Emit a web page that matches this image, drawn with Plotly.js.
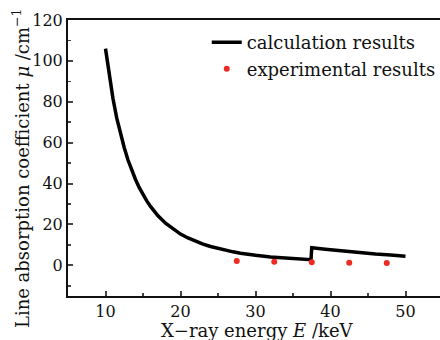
<!DOCTYPE html>
<html>
<head>
<meta charset="utf-8">
<script src="https://cdn.plot.ly/plotly-3.0.1.min.js"></script>
<style>
html,body{margin:0;padding:0;overflow:hidden;background:#fff;}
#chart{width:451px;height:340px;}
</style>
</head>
<body>
<div id="chart"></div>
<script>
// Calculated line absorption coefficient
const calcEnergy = [10, 10.5, 11, 11.5, 12, 12.5, 13, 13.5, 14, 14.5, 15, 15.5, 16, 17, 18, 19, 20, 21, 22, 23, 24, 25, 26, 27, 28, 29, 30, 32, 34, 36, 37.4, 37.5, 38, 39, 40, 42, 44, 46, 48, 50];
const calcMu     = [106, 92.5, 81.5, 72, 64.5, 57.5, 51.5, 46.5, 42, 38, 34.5, 31.5, 28.8, 24.2, 20.6, 17.7, 15.3, 13.4, 11.7, 10.4, 9.2, 8.2, 7.3, 6.6, 5.9, 5.3, 4.9, 4.1, 3.5, 3.0, 2.75, 8.6, 8.5, 8.0, 7.6, 6.8, 6.1, 5.5, 5.0, 4.5];
// Experimental results
const expEnergy = [27.5, 32.5, 37.5, 42.5, 47.5];
const expMu     = [2.1, 1.7, 1.5, 1.3, 1.2];

const xTicks = [10, 20, 30, 40, 50];
const yTicks = [0, 20, 40, 60, 80, 100, 120];

const xTitle = 'X−ray energy <i>E</i> /keV';
const yTitle = 'Line absorption coefficient <i>μ</i> /cm<sup>−1</sup>';

const serif = "DejaVu Serif";

const traces = [
  {x: calcEnergy, y: calcMu, type: 'scatter', mode: 'lines', name: 'calculation results',
   line: {color: '#000', width: 3.5}},
  {x: expEnergy, y: expMu, type: 'scatter', mode: 'markers', name: 'experimental results',
   marker: {color: '#ee2a24', size: 6}}
];

const layout = {
  width: 451, height: 340,
  margin: {l: 68, r: 8, t: 20, b: 44},
  paper_bgcolor: '#fff', plot_bgcolor: '#fff',
  font: {family: serif, color: '#111', size: 16},
  showlegend: true,
  legend: {x: 0.37, y: 0.985, xanchor: 'left', yanchor: 'top', bgcolor: 'rgba(0,0,0,0)',
           font: {family: serif, size: 18, color: '#111'}, itemwidth: 30, tracegroupgap: 0},
  xaxis: {
    range: [5, 55], tickvals: xTicks, ticks: 'inside', ticklen: 5, tickwidth: 2,
    showline: true, linewidth: 2, linecolor: '#111', mirror: true, showgrid: false, zeroline: false,
    minor: {dtick: 5, ticks: 'inside', ticklen: 3, tickwidth: 1.5, showgrid: false},
    tickfont: {family: serif, size: 16}
  },
  yaxis: {
    range: [-15, 120], tickvals: yTicks, ticks: 'inside', ticklen: 5, tickwidth: 2,
    showline: true, linewidth: 2, linecolor: '#111', mirror: true, showgrid: false, zeroline: false,
    minor: {dtick: 10, ticks: 'inside', ticklen: 3, tickwidth: 1.5, showgrid: false},
    tickfont: {family: serif, size: 16}
  },
  annotations: [
    {text: xTitle, xref: 'paper', yref: 'paper', x: 0.505, y: -0.125, xanchor: 'center', yanchor: 'middle',
     showarrow: false, font: {family: serif, size: 18, color: '#111'}},
    {text: yTitle, xref: 'paper', yref: 'paper', x: -0.125, y: 0.464, xanchor: 'center', yanchor: 'middle',
     textangle: -90, showarrow: false, font: {family: serif, size: 18, color: '#111'}}
  ]
};

Plotly.newPlot('chart', traces, layout, {displayModeBar: false, staticPlot: true});
</script>
</body>
</html>
